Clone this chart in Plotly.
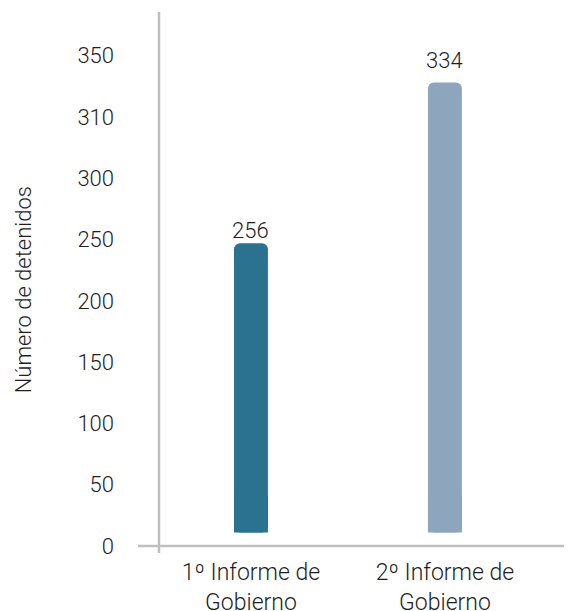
import plotly.graph_objects as go

categories = ["1º Informe de<br>Gobierno", "2º Informe de<br>Gobierno"]
bar_tops = [247, 378]          # bar top positions
bar_base = 11                  # bars start slightly above zero
foot_height = 30               # square-cornered foot of each bar
data_labels = ["256", "334"]
label_lift = [11, 20]          # px between bar top and label centre
bar_colors = ["#2B7190", "#8DA5BD"]
tick_vals = [0, 50, 100, 150, 200, 250, 300, 350, 400]
tick_text = ["0", "50", "100", "150", "200", "250", "300", "310", "350"]

FONT = "Roboto"
WEIGHT = 300
TXT = "#1E1E1E"

fig = go.Figure()
fig.add_trace(go.Bar(
    x=[0, 1],
    y=[t - bar_base for t in bar_tops],
    base=bar_base,
    width=0.175,
    marker=dict(color=bar_colors, cornerradius=6, line=dict(width=0)),
    hoverinfo="skip",
))
fig.add_trace(go.Bar(
    x=[0, 1],
    y=[foot_height, foot_height],
    base=bar_base,
    width=0.175,
    marker=dict(color=bar_colors, line=dict(width=0)),
    hoverinfo="skip",
))

annotations = [
    dict(text="Número de detenidos", xref="paper", yref="paper",
         x=-0.329, y=0.479, textangle=-90, showarrow=False,
         font=dict(family=FONT, size=22, color=TXT, weight=WEIGHT),
         xanchor="center", yanchor="middle"),
]
for i, (top, lab, lift) in enumerate(zip(bar_tops, data_labels, label_lift)):
    annotations.append(dict(
        x=i, y=top, xref="x", yref="y", text=lab, showarrow=False,
        xanchor="center", yanchor="middle", yshift=lift + 2,
        font=dict(family=FONT, size=22, color=TXT, weight=WEIGHT),
    ))

fig.update_layout(
    width=564, height=603,
    margin=dict(l=151, r=0, t=4, b=65, autoexpand=False),
    paper_bgcolor="white", plot_bgcolor="white",
    showlegend=False,
    barmode="overlay",
    font=dict(family=FONT, size=22, color=TXT, weight=WEIGHT),
    xaxis=dict(
        range=[-0.474, 1.655],
        tickvals=[0, 1], ticktext=categories,
        showgrid=False, zeroline=False, showline=False,
        ticks="", ticklabelstandoff=10, automargin=False,
        tickfont=dict(family=FONT, size=23, color=TXT, weight=WEIGHT),
        fixedrange=True,
    ),
    yaxis=dict(
        range=[0, 435.6],
        tickvals=tick_vals, ticktext=tick_text,
        showgrid=False, zeroline=False, showline=False,
        ticks="", ticklabelstandoff=44, automargin=False,
        tickfont=dict(family=FONT, size=22, color=TXT, weight=WEIGHT),
        fixedrange=True,
    ),
    shapes=[
        dict(type="line", xref="paper", yref="paper",
             x0=0, x1=0, y0=-0.0131, y1=1,
             line=dict(color="#BFBFBF", width=2.5)),
        dict(type="line", xref="paper", yref="paper",
             x0=-0.0508, x1=1, y0=0, y1=0,
             line=dict(color="#BFBFBF", width=2.5)),
    ],
    annotations=annotations,
)

fig.write_html("out.html")
